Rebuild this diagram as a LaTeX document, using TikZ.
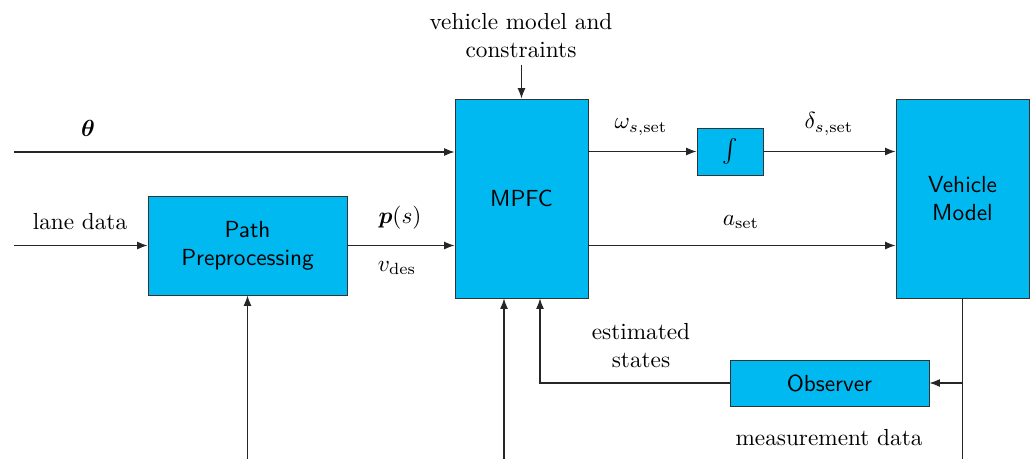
\documentclass[tikz,border=0pt]{standalone}
\usepackage{bm}
\usetikzlibrary{arrows.meta,calc}
\definecolor{boxcyan}{RGB}{0,185,241}
\begin{document}
\begin{tikzpicture}[x=0.43pt,y=-0.43pt,
  blk/.style={draw=black!80,fill=boxcyan,inner sep=0pt,align=center,font=\sffamily},
  conn/.style={draw=black!85,line width=0.45pt,-{Latex[length=4.5pt,width=3.4pt]}},
  plain/.style={draw=black!85,line width=0.45pt},
  lbl/.style={inner sep=0pt,align=center}]
\useasboundingbox (0,0) rectangle (1034,459);
% blocks
\node[blk,minimum width={199*0.43pt},minimum height={99*0.43pt}] (pp) at (247.5,245.5) {Path\\Preprocessing};
\node[blk,minimum width={133*0.43pt},minimum height={199*0.43pt}] (mpfc) at (521.5,198.5) {MPFC};
\node[blk,minimum width={66*0.43pt},minimum height={47*0.43pt}] (int) at (730,151.5) {$\int$};
\node[blk,minimum width={133*0.43pt},minimum height={199*0.43pt}] (vm) at (962.5,198.5) {Vehicle\\Model};
\node[blk,minimum width={199*0.43pt},minimum height={46*0.43pt}] (obs) at (829.5,383) {Observer};
% coordinates
\coordinate (thin) at (14,152);
\coordinate (lanein) at (14,245.5);
\coordinate (vmc) at (521.5,65);
\coordinate (ppin) at (247.5,459);
\coordinate (mpin) at (504,459);
\coordinate (vmout) at (962.5,459);
\coordinate (fb) at (540,383);
% labels
\node[lbl] (vmcl) at (521,35.5) {vehicle model and\\constraints};
\node[lbl] (thl) at (88,128) {$\bm{\theta}$};
\node[lbl] (lanel) at (80,222) {lane data};
\node[lbl] (psl) at (400,218) {$\bm{p}(s)$};
\node[lbl] (vdl) at (397,268) {$v_{\mathrm{des}}$};
\node[lbl] (oml) at (641,127) {$\omega_{s,\mathrm{set}}$};
\node[lbl] (del) at (829,124) {$\delta_{s,\mathrm{set}}$};
\node[lbl] (asl) at (741,222) {$a_{\mathrm{set}}$};
\node[lbl] (esl) at (641,346) {estimated\\states};
\node[lbl] (mdl) at (829,438) {measurement data};
% connectors
\draw[conn] (thin) -- (thin -| mpfc.west);
\draw[conn] (lanein) -- (pp.west);
\draw[conn] (pp.east) -- (pp.east -| mpfc.west);
\draw[conn] (vmc) -- (mpfc.north);
\draw[conn] (int.west -| mpfc.east) -- (int.west);
\draw[conn] (int.east) -- (int.east -| vm.west);
\draw[conn] (pp.east -| mpfc.east) -- (pp.east -| vm.west);
\draw[plain] (vm.south -| vmout) -- (vmout);
\draw[conn] (obs.east -| vmout) -- (obs.east);
\draw[conn] (obs.west) -- (fb) -- (fb |- mpfc.south);
\draw[conn] (ppin) -- (pp.south);
\draw[conn] (mpin) -- (mpfc.south -| mpin);
\end{tikzpicture}
\end{document}
